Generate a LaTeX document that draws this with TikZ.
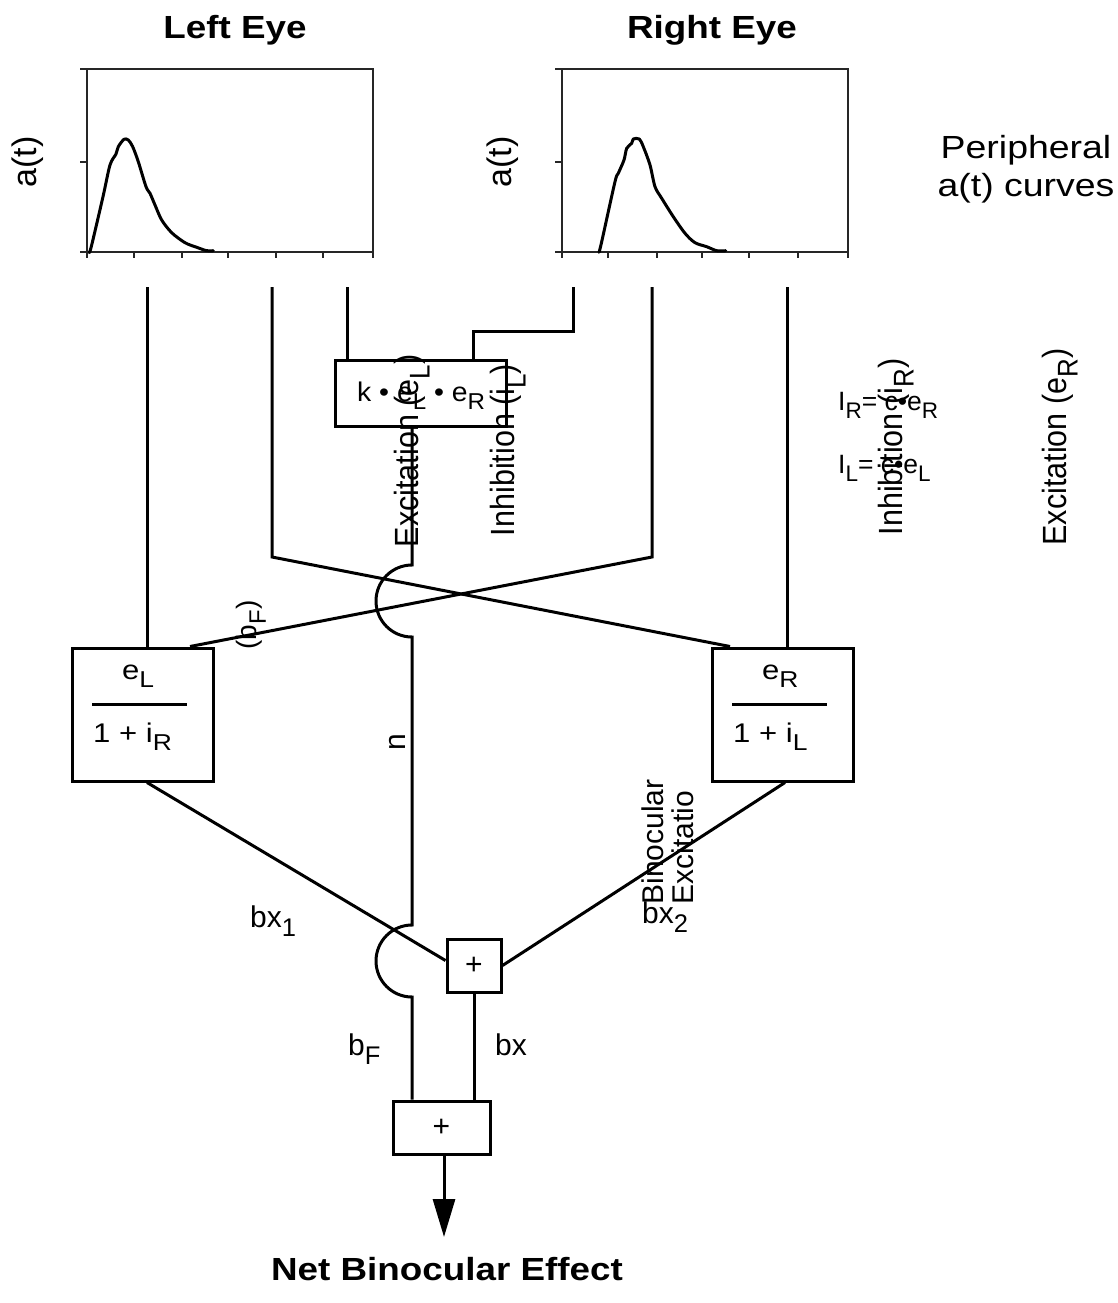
\documentclass[tikz,border=0pt]{standalone}
\usepackage{fontspec}
\setmainfont{Liberation Sans}
\usepackage{graphicx}
\usetikzlibrary{arrows.meta}
\newcommand\hstr[2][1]{\scalebox{#1}[1]{#2}}
\newcommand\vstr[2][1.1]{\scalebox{#1}[1]{\rotatebox{90}{#2}}}
\newcommand\sbs[1]{\raisebox{-0.33em}{\scalebox{0.85}{#1}}}
\begin{document}
\begin{tikzpicture}[x=1pt,y=-1pt,
  txt/.style={inner sep=0pt, font=\fontsize{30}{36}\selectfont},
  big/.style={inner sep=0pt, font=\fontsize{32}{38}\selectfont},
  wire/.style={line width=3pt, line join=miter},
  blk/.style={draw, line width=3pt},
  frm/.style={line width=1.3pt, draw=black!85},
  crv/.style={line width=3pt, line join=round, line cap=round}]
\useasboundingbox (0,0) rectangle (1118,1303);

% ---------- titles ----------
\node[big, anchor=base] (tL) at (235,39) {\hstr[1.15]{\bfseries Left Eye}};
\node[big, anchor=base] (tR) at (712,39) {\hstr[1.15]{\bfseries Right Eye}};
\node[big, anchor=base] (tN) at (447,1280) {\hstr[1.15]{\bfseries Net Binocular Effect}};
\node[big, anchor=base] (p1) at (1026,158) {\hstr[1.17]{Peripheral}};
\node[big, anchor=base] (p2) at (1026,196) {\hstr[1.17]{a(t) curves}};

% ---------- left graph ----------
\draw[frm] (87,69) rectangle (373,252);
\foreach \yy in {69,162,252} \draw[frm] (80,\yy) -- (87,\yy);
\foreach \xx in {87,134,182,228,276,323,373} \draw[frm] (\xx,252) -- (\xx,258);
\draw[crv] plot[smooth, tension=0.5] coordinates {(89.3,252.7) (91.7,245) (103,196.7) (110,165) (116,154) (118.3,146.7) (124,139.3) (128.3,140) (132.7,146.7) (138.3,161.7) (146,186.7) (150,193.3) (155,205) (161.7,220) (171.7,232.7) (185,242.7) (196.7,247.3) (206.7,250.7) (213.3,250.7)};
\node[txt, font=\fontsize{34}{40}\selectfont] (aL) at (28,162) {\vstr[1]{a(t)}};

% ---------- right graph ----------
\draw[frm] (562,69) rectangle (848,252);
\foreach \yy in {69,162,252} \draw[frm] (555,\yy) -- (562,\yy);
\foreach \xx in {562,608,657,702,749,798,848} \draw[frm] (\xx,252) -- (\xx,258);
\draw[crv] plot[smooth, tension=0.5] coordinates {(599,252.3) (601.7,241.7) (615,181.7) (618.3,173.3) (624,160) (626.7,148.3) (631.7,143.3) (633.3,139) (639.3,139) (643.3,146.7) (650,165) (655,186.7) (661.7,198.3) (673.3,216.7) (685,233.3) (695,242.7) (706.7,246.7) (716.7,250.7) (725.7,250.7)};
\node[txt, font=\fontsize{34}{40}\selectfont] (aR) at (503,162) {\vstr[1]{a(t)}};

% ---------- boxes ----------
\node[blk, minimum width=141pt, minimum height=133pt] (LBox) at (142.5,714.5) {};
\node[blk, minimum width=141pt, minimum height=133pt] (RBox) at (782.5,714.5) {};
\node[blk, minimum width=171pt, minimum height=66pt] (KBox) at (420.5,393) {};
\node[txt, blk, minimum width=54pt, minimum height=53pt] (P1) at (474,965.5) {+};
\node[txt, blk, minimum width=97pt, minimum height=53pt] (P2) at (441.5,1127.5) {+};

\draw[line width=3pt] (92,704) -- (187,704);
\draw[line width=3pt] (732,704) -- (827,704);
\node[txt, font=\fontsize{27}{32}\selectfont, anchor=base west] (eL) at (122,679) {\hstr[1.15]{e\sbs{L}}};
\node[txt, font=\fontsize{27}{32}\selectfont, anchor=base west] (dL) at (93,742) {\hstr[1.15]{1 + i\sbs{R}}};
\node[txt, font=\fontsize{27}{32}\selectfont, anchor=base west] (eR) at (762,679) {\hstr[1.15]{e\sbs{R}}};
\node[txt, font=\fontsize{27}{32}\selectfont, anchor=base west] (dR) at (733,742) {\hstr[1.15]{1 + i\sbs{L}}};
\node[txt, font=\fontsize{27}{32}\selectfont, anchor=base west] (kt) at (357,401) {\hstr[1.05]{k • e\sbs{L} • e\sbs{R}}};

% ---------- connector coordinates ----------
\coordinate (sA) at (147,287);
\coordinate (sB) at (272,287); \coordinate (kB) at (272,557); \coordinate (eB) at (730,0);
\coordinate (sC) at (347,287);
\coordinate (sD) at (573,287); \coordinate (kD1) at (573,331); \coordinate (kD2) at (473,331);
\coordinate (sE) at (652,287); \coordinate (kE) at (652,557); \coordinate (eE) at (190,0);
\coordinate (sF) at (787,287);
\coordinate (xN) at (412,0);
\coordinate (hN1) at (412,565); \coordinate (bN1) at (376,601); \coordinate (hN2) at (412,637);
\coordinate (hN3) at (412,925); \coordinate (bN2) at (376,961); \coordinate (hN4) at (412,997);
\coordinate (xL) at (147,0); \coordinate (xR) at (785,0);
\coordinate (out) at (444,1237);

% ---------- connectors ----------
\draw[wire] (sA) -- (LBox.north -| sA);
\draw[wire] (sB) -- (kB) -- (RBox.north -| eB);
\draw[wire] (sC) -- (KBox.north -| sC);
\draw[wire] (sD) -- (kD1) -- (kD2) -- (KBox.north -| kD2);
\draw[wire] (sE) -- (kE) -- (LBox.north -| eE);
\draw[wire] (sF) -- (RBox.north -| sF);
\draw[wire] (KBox.south -| xN) -- (hN1)
   .. controls +(-19.9,0) and +(0,-19.9) .. (bN1)
   .. controls +(0,19.9) and +(-19.9,0) .. (hN2) -- (hN3)
   .. controls +(-19.9,0) and +(0,-19.9) .. (bN2)
   .. controls +(0,19.9) and +(-19.9,0) .. (hN4) -- (P2.north -| xN);
\draw[wire] (LBox.south -| xL) -- ([yshift=5pt]P1.west);
\draw[wire] (RBox.south -| xR) -- (P1.east);
\draw[wire] (P1.south) -- (P2.north -| P1.south);
\draw[wire, -{Triangle[length=38pt,width=22pt]}] (P2.south -| out) -- (out);

% ---------- labels ----------
\node[txt, font=\fontsize{30.5}{36}\selectfont] (lExL) at (412,451) {\vstr{Excitation (e\sbs{L})}};
\node[txt, font=\fontsize{30.5}{36}\selectfont] (lInL) at (508,450) {\vstr{Inhibition (i\sbs{L})}};
\node[txt, font=\fontsize{30.5}{36}\selectfont] (lInR) at (896,447) {\vstr{Inhibition (i\sbs{R})}};
\node[txt, font=\fontsize{30.5}{36}\selectfont] (lExR) at (1060,447) {\vstr{Excitation (e\sbs{R})}};
\node[txt, font=\fontsize{26.5}{32}\selectfont, anchor=base west] (lIR) at (838,410) {I\sbs{R}= c•e\sbs{R}};
\node[txt, font=\fontsize{26.5}{32}\selectfont, anchor=base west] (lIL) at (838,473) {I\sbs{L}= c•e\sbs{L}};
\node[txt, font=\fontsize{28}{34}\selectfont] (lbF) at (251,625) {\vstr[1]{(b\sbs{F})}};
\node[txt] (ln) at (397,742) {\vstr[1]{n}};
\node[txt, anchor=base west] (lbx1) at (250,927) {bx\sbs{1}};
\node[txt, anchor=base west] (lbx2) at (642,923) {bx\sbs{2}};
\node[txt] (lBin) at (671.5,842) {\vstr[1]{\begin{tabular}{@{}l@{}}Binocular\\[-6pt]Excitatio\end{tabular}}};
\node[txt, anchor=base west] (lbF2) at (348,1055) {b\sbs{F}};
\node[txt, anchor=base west] (lbx) at (495,1055) {bx};
\end{tikzpicture}
\end{document}
